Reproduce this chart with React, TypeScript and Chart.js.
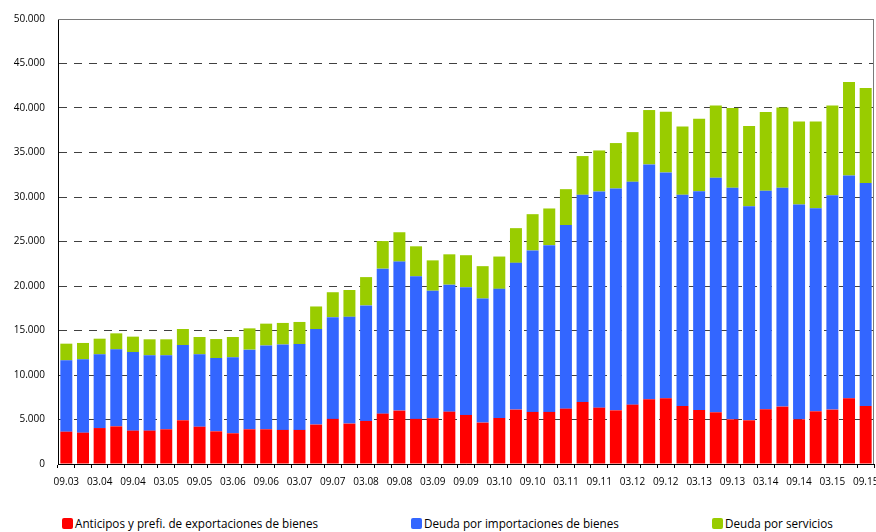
import React, { useEffect, useRef } from "react";
import { Chart, registerables } from "chart.js";

Chart.register(...registerables);

const categories = [
  "09.03", "12.03",
  "03.04", "06.04", "09.04", "12.04",
  "03.05", "06.05", "09.05", "12.05",
  "03.06", "06.06", "09.06", "12.06",
  "03.07", "06.07", "09.07", "12.07",
  "03.08", "06.08", "09.08", "12.08",
  "03.09", "06.09", "09.09", "12.09",
  "03.10", "06.10", "09.10", "12.10",
  "03.11", "06.11", "09.11", "12.11",
  "03.12", "06.12", "09.12", "12.12",
  "03.13", "06.13", "09.13", "12.13",
  "03.14", "06.14", "09.14", "12.14",
  "03.15", "06.15", "09.15",
];

const anticipos = [
  3630, 3520, 4040, 4230, 3750, 3750, 3900, 4910, 4190, 3670, 3450, 3900,
  3900, 3830, 3830, 4430, 5070, 4540, 4840, 5660, 6000, 5070, 5140, 5880,
  5510, 4650, 5170, 6110, 5850, 5850, 6220, 6970, 6330, 6030, 6670, 7270,
  7380, 6520, 6070, 5810, 5020, 4910, 6150, 6450, 5020, 5920, 6110, 7380, 6520,
];

const importaciones = [
  8020, 8240, 8280, 8650, 8830, 8460, 8310, 8460, 8130, 8240, 8540, 8950,
  9420, 9600, 9640, 10730, 11430, 12000, 12980, 16290, 16740, 16020, 14330, 14270,
  14360, 13940, 14510, 16490, 18140, 18740, 20620, 23280, 24290, 24930, 25040, 26390,
  25380, 23730, 24590, 26350, 26010, 24060, 24550, 24580, 24140, 22830, 24100, 25040, 25040,
];

const servicios = [
  1870, 1840, 1760, 1800, 1730, 1800, 1800, 1800, 1950, 2130, 2280, 2390,
  2450, 2420, 2490, 2540, 2800, 3010, 3180, 3100, 3300, 3370, 3410, 3410,
  3590, 3640, 3630, 3900, 4080, 4120, 4040, 4350, 4610, 5100, 5580, 6110,
  6820, 7680, 8130, 8130, 8960, 9000, 8840, 9040, 9330, 9740, 10080, 10500, 10680,
];

const seriesNames = [
  "Anticipos y prefi. de exportaciones de bienes",
  "Deuda por importaciones de bienes",
  "Deuda por servicios",
];
const seriesColors = ["#FF0000", "#3366FF", "#99CC00"];

const FONT = "'Open Sans', 'Noto Sans', sans-serif";

const frame = {
  id: "frame",
  afterDraw(chart: any) {
    const { ctx, chartArea } = chart;
    ctx.save();
    ctx.strokeStyle = "#7a7a7a";
    ctx.lineWidth = 1;
    ctx.beginPath();
    ctx.moveTo(chartArea.left, Math.round(chartArea.top) + 0.5);
    ctx.lineTo(chartArea.right, Math.round(chartArea.top) + 0.5);
    ctx.moveTo(Math.round(chartArea.right) - 0.5, chartArea.top);
    ctx.lineTo(Math.round(chartArea.right) - 0.5, chartArea.bottom);
    ctx.stroke();
    ctx.restore();
  },
};

export default function App() {
  const ref = useRef<HTMLCanvasElement>(null);

  useEffect(() => {
    if (!ref.current) return;
    const data = [anticipos, importaciones, servicios];
    const chart = new Chart(ref.current, {
      type: "bar",
      data: {
        labels: categories,
        datasets: data.map((d, i) => ({
          label: seriesNames[i],
          data: d,
          backgroundColor: seriesColors[i],
          borderWidth: 0,
          categoryPercentage: 0.8,
          barPercentage: 0.9,
        })),
      },
      options: {
        responsive: false,
        animation: false,
        devicePixelRatio: 1,
        layout: { padding: { top: 19, right: 18, left: 0, bottom: 0 } },
        plugins: {
          legend: { display: false },
          tooltip: { enabled: false },
        },
        scales: {
          x: {
            stacked: true,
            offset: true,
            afterFit: (scale: any) => {
              scale.height = 36;
            },
            grid: {
              offset: true,
              drawOnChartArea: false,
              drawTicks: true,
              tickLength: 4,
              color: "#000",
            },
            border: { color: "#000", width: 1 },
            ticks: {
              autoSkip: false,
              maxRotation: 0,
              minRotation: 0,
              padding: 8,
              color: "#000",
              font: { family: FONT, size: 10 },
              callback: (_v: any, idx: number) => (idx % 2 === 0 ? categories[idx] : ""),
            },
          },
          y: {
            stacked: true,
            min: 0,
            max: 50000,
            afterFit: (scale: any) => {
              scale.width = 58;
            },
            grid: {
              drawTicks: false,
              color: "#404040",
              lineWidth: 1,
            },
            border: { display: true, color: "#000", width: 1, dash: [8, 7] },
            ticks: {
              stepSize: 5000,
              padding: 13,
              color: "#000",
              font: { family: FONT, size: 10 },
              callback: (v: any) => Number(v).toLocaleString("de-DE"),
            },
          },
        },
      },
      plugins: [frame],
    });
    return () => chart.destroy();
  }, []);

  const legendLeft = [62, 411, 712];

  return (
    <div
      style={{
        position: "absolute",
        left: 0,
        top: 0,
        width: 876,
        height: 532,
        overflow: "hidden",
        background: "#fff",
      }}
    >
      <canvas
        ref={ref}
        width={892}
        height={500}
        style={{ position: "absolute", left: 0, top: 0, width: 892, height: 500 }}
      />
      {seriesNames.map((name, i) => (
        <div
          key={name}
          style={{
            position: "absolute",
            left: legendLeft[i],
            top: 515,
            height: 16,
            display: "flex",
            alignItems: "center",
            fontFamily: FONT,
            fontSize: 11.7,
            color: "#000",
            whiteSpace: "nowrap",
          }}
        >
          <span
            style={{
              display: "inline-block",
              width: 11,
              height: 11,
              borderRadius: 2,
              background: seriesColors[i],
              marginRight: 2,
            }}
          />
          <span>{name}</span>
        </div>
      ))}
    </div>
  );
}
